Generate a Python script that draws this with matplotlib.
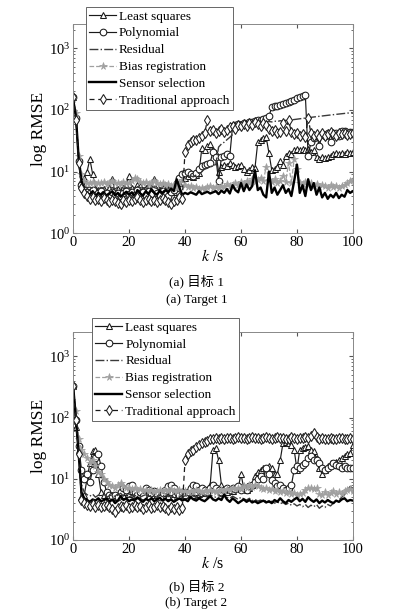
import numpy as np
import matplotlib
matplotlib.use("Agg")
import matplotlib.pyplot as plt
from matplotlib.ticker import LogLocator, LogFormatterSciNotation, NullFormatter

plt.rcParams['font.family'] = ['Liberation Serif', 'Noto Sans CJK SC']
plt.rcParams['mathtext.fontset'] = 'stix'

k = list(range(0, 101))

labels = ["Least squares", "Polynomial", "Residual", "Bias registration",
          "Sensor selection", "Traditional approach"]

# ---------------- Target 1 ----------------
ls1 = [160, 80, 16, 7, 8, 10, 16, 9, 5.5, 5, 4.8, 5.2, 4.6, 5.5, 7.5, 4.5, 5.2, 4.8, 5.5, 6.0,
       8.5, 5.5, 5.2, 6.0, 5.8, 5.0, 5.5, 6.0, 5.2, 7.5, 5.8, 5.0, 5.4, 4.8, 5.2, 5.0, 4.6, 5.5, 6.5, 7.5,
       8.0, 8.5, 9.0, 8.2, 8.8, 9.5, 24, 22, 26, 28, 22, 20, 10, 12, 13, 12.5, 14, 13, 12, 12.5,
       13, 11, 10, 10.5, 12, 11.5, 30, 32, 35, 36, 20, 10.5, 11, 12, 15, 13, 18, 20, 19, 22,
       23, 22, 23, 22, 23, 21, 22, 17, 16, 17, 16.5, 17, 18, 19, 20, 19, 20, 19, 21, 20, 21]
poly1 = [160, 75, 15, 6, 5, 4.6, 4.5, 5, 4.2, 4.4, 4.8, 4.3, 4.5, 4.0, 4.6, 4.2, 4.4, 4.0, 4.5, 4.8,
         4.3, 4.6, 4.2, 5.0, 4.4, 4.6, 4.1, 4.8, 4.3, 5.2, 4.5, 4.2, 4.8, 4.4, 4.0, 4.6, 5.0, 6.5, 8.0, 9.0,
         9.5, 10, 9.2, 8.5, 9.5, 11, 12.5, 13, 13.5, 14, 21, 17, 7, 17, 18, 19, 18, 55, 57, 60,
         58, 62, 60, 65, 63, 67, 70, 68, 72, 75, 80, 110, 115, 118, 122, 125, 130, 135, 140, 148,
         155, 160, 168, 175, 18, 30, 35, 38, 26, 40, 38, 42, 30, 40, 42, 38, 45, 46, 42, 44, 40]
res1 = [150, 85, 17, 7, 5.8, 5.5, 5.6, 5.3, 5.6, 5.2, 5.5, 5.4, 5.7, 5.3, 5.5, 5.2, 5.6, 5.4, 5.8, 5.5,
        5.3, 5.6, 5.4, 5.7, 5.5, 5.3, 5.6, 5.4, 5.8, 5.5, 5.3, 5.6, 5.4, 5.5, 5.2, 5.6, 5.4, 6.0, 6.5, 7.0,
        7.5, 8.0, 8.5, 8.2, 8.8, 9.5, 10, 11, 11.5, 12, 12.5, 13, 25, 28, 30, 33, 36, 40, 45, 50,
        52, 54, 56, 58, 60, 62, 60, 63, 62, 64, 65, 64, 66, 65, 67, 66, 68, 67, 69, 70,
        71, 72, 73, 74, 75, 76, 77, 78, 79, 80, 81, 82, 83, 84, 85, 86, 87, 88, 89, 90, 90]
bias1 = [150, 90, 18, 9, 7, 6.5, 6.5, 6.8, 6.3, 6.6, 6.4, 6.8, 6.2, 6.5, 7.0, 6.4, 6.6, 6.2, 6.8, 6.5,
         6.4, 7.0, 8.0, 7.5, 6.8, 6.5, 6.8, 6.3, 6.6, 7.0, 6.4, 6.2, 6.6, 6.0, 6.3, 5.8, 6.0, 5.5, 6.5, 7.2,
         6.0, 5.6, 5.8, 5.4, 5.6, 5.2, 5.5, 5.3, 5.6, 5.8, 5.5, 5.7, 5.4, 5.9, 5.6, 6.2, 5.8, 6.0, 6.4, 6.0,
         6.8, 6.2, 7.0, 6.5, 7.5, 6.8, 7.2, 8.0, 7.0, 12, 7.2, 6.8, 7.5, 6.5, 7.0, 8.5, 6.8, 14, 6.5, 16,
         11, 6.5, 6.2, 6.8, 6.0, 6.4, 5.8, 6.2, 5.6, 6.0, 5.8, 5.5, 6.0, 5.6, 5.8, 5.5, 5.8, 6.0, 6.5, 7.0, 7.2]
ss1 = [150, 80, 16, 7, 5, 4.5, 4.2, 4.8, 4.0, 4.5, 4.2, 4.6, 4.0, 4.4, 4.8, 4.1, 4.5, 3.9, 4.3, 4.7,
       4.2, 4.6, 4.0, 5.0, 4.4, 4.1, 4.8, 4.3, 5.2, 4.5, 4.2, 4.9, 4.4, 5.0, 4.6, 5.3, 4.8, 7.5, 5.5, 4.2,
       4.5, 4.3, 4.6, 4.4, 4.2, 4.8, 4.3, 4.5, 4.7, 4.4, 4.6, 4.8, 4.3, 4.9, 4.5, 5.2, 4.4, 6.0, 5.0, 4.6,
       6.5, 4.8, 6.2, 5.0, 5.8, 10.5, 5.0, 5.5, 4.2, 3.8, 10.0, 4.5, 5.5, 4.2, 5.0, 6.0, 4.5, 5.2, 4.0, 7.0,
       13.0, 4.5, 6.0, 4.0, 7.5, 5.0, 6.5, 4.2, 5.5, 3.8, 4.5, 3.6, 4.2, 3.8, 4.5, 3.7, 4.2, 3.9, 5.0, 4.5, 4.8]
trad1 = [160, 70, 14, 5.5, 4.5, 4, 3.6, 3.8, 3.4, 3.6, 3.3, 3.7, 3.4, 3.2, 3.5, 3.3, 3.1, 3.0, 3.4, 3.2,
         3.5, 3.3, 3.6, 3.8, 3.5, 3.2, 3.4, 3.6, 3.3, 3.5, 3.2, 3.4, 3.7, 3.4, 3.2, 3.0, 3.3, 3.5, 3.8, 3.6,
         21, 27, 30, 32, 33, 35, 38, 42, 68, 45, 48, 42, 46, 50, 44, 48, 52, 55, 50, 58,
         54, 60, 56, 62, 58, 64, 60, 55, 62, 58, 50, 45, 48, 42, 44, 62, 46, 68, 44, 40,
         42, 38, 40, 36, 74, 42, 38, 40, 36, 42, 38, 40, 44, 41, 38, 42, 40, 43, 39, 41, 42]

# ---------------- Target 2 ----------------
ls2 = [330, 70, 30, 5, 5.5, 10, 18, 28, 30, 12, 6, 5.5, 5.2, 5.0, 5.4, 5.0, 5.2, 5.8, 5.5, 6.0,
       5.6, 6.2, 5.5, 5.8, 5.4, 6.0, 5.5, 5.2, 5.8, 5.4, 5.6, 5.2, 5.5, 5.8, 5.3, 6.0, 5.6, 5.2, 5.5, 5.8,
       5.4, 5.6, 5.8, 5.5, 6.0, 5.6, 5.8, 6.0, 5.8, 8.0, 30, 32, 20, 8, 6.5, 6.0, 6.5, 6.2, 6.8, 7.0,
       12, 7.0, 6.5, 7.0, 8.0, 11, 13, 14, 15, 15, 16, 15, 12, 12, 20, 38, 40, 38, 36, 30,
       14, 30, 32, 33, 35, 30, 28, 22, 15, 12, 14, 16, 18, 17, 19, 20, 22, 24, 25, 26, 36]
poly2 = [330, 90, 35, 14, 10, 12, 9, 14, 22, 25, 16, 9, 6, 5.5, 5.2, 5.5, 5.0, 6.0, 7.0, 6.5,
         7.5, 8.0, 6.0, 5.5, 6.0, 5.2, 7.0, 6.5, 5.8, 6.2, 5.5, 5.0, 5.8, 6.5, 7.5, 8.0, 7.0, 6.0, 5.5, 6.0,
         5.5, 6.0, 7.0, 8.0, 7.5, 6.5, 7.0, 6.5, 6.0, 7.0, 8.0, 7.0, 6.5, 6.0, 6.5, 7.0, 6.5, 7.0, 6.8, 7.5,
         6.5, 7.0, 6.5, 7.5, 8.0, 9.0, 10, 11, 10, 15, 12, 9.5, 8.5, 7.5, 8.0, 7.0, 6.5, 7.0, 7.8, 14,
         16, 15, 17, 18, 22, 24, 20, 20, 18, 15, 14, 15, 16, 18, 17, 16, 15, 16, 15, 15, 15]
res2 = [330, 110, 35, 8, 6, 5.5, 5.2, 5.6, 5.0, 5.4, 5.2, 5.6, 5.0, 5.3, 5.5, 5.1, 5.4, 5.8, 5.2, 5.5,
        5.0, 5.4, 5.2, 5.6, 5.0, 5.3, 5.5, 5.1, 5.4, 5.2, 5.0, 5.4, 5.2, 5.6, 5.1, 5.3, 5.0, 5.4, 5.2, 5.0,
        5.3, 5.1, 5.5, 5.2, 5.0, 5.4, 5.1, 5.3, 5.0, 5.4, 5.2, 5.0, 5.3, 5.1, 5.5, 5.0, 4.8, 5.2, 4.9, 4.6,
        5.0, 4.7, 4.5, 4.8, 4.4, 4.6, 4.3, 4.5, 4.2, 4.4, 4.1, 4.3, 4.0, 4.2, 3.9, 4.1, 3.8, 4.0, 3.7, 3.9,
        3.6, 3.8, 3.5, 3.8, 3.4, 3.7, 3.5, 3.8, 3.3, 3.6, 3.4, 3.8, 3.6, 4.0, 4.2, 4.5, 5.0, 5.5, 6.5, 7.5, 7.0]
bias2 = [330, 130, 45, 30, 25, 22, 18, 20, 16, 13, 12, 10, 9, 8, 7.5, 7.2, 7.8, 8.5, 7.5, 7.0,
         7.2, 6.8, 7.0, 6.5, 6.8, 6.4, 6.6, 6.2, 6.5, 6.0, 6.3, 6.5, 6.2, 6.6, 6.3, 6.8, 6.4, 6.2, 6.5, 6.0,
         6.3, 6.0, 6.4, 6.1, 6.5, 6.2, 6.0, 6.4, 6.1, 6.5, 6.2, 6.0, 6.3, 6.6, 6.2, 6.8, 6.5, 7.0, 6.8, 7.2,
         6.9, 7.5, 7.2, 7.8, 7.4, 8.0, 7.6, 7.2, 6.8, 7.0, 6.5, 6.8, 6.2, 6.5, 6.0, 6.3, 5.8, 6.0, 5.6, 5.8,
         5.4, 5.6, 5.8, 6.5, 7.0, 7.2, 6.8, 7.0, 5.6, 5.4, 6.0, 5.5, 5.8, 6.2, 5.6, 6.0, 5.7, 6.2, 6.5, 6.8, 6.3]
ss2 = [330, 100, 25, 6, 4.8, 4.5, 4.2, 4.6, 4.4, 4.8, 4.3, 4.5, 4.7, 4.2, 4.6, 4.0, 4.4, 5.2, 4.5, 4.8,
       4.3, 4.6, 4.4, 5.0, 4.5, 4.2, 4.7, 4.4, 4.8, 4.3, 4.6, 4.9, 4.4, 4.7, 4.3, 4.6, 4.2, 4.5, 4.8, 4.4,
       4.6, 4.3, 5.0, 4.6, 4.4, 4.8, 4.5, 4.3, 4.7, 5.2, 4.6, 4.4, 4.8, 4.5, 5.5, 4.6, 4.2, 4.8, 4.4, 4.0,
       4.3, 4.6, 4.2, 4.5, 4.1, 4.3, 4.0, 4.2, 4.4, 4.1, 4.3, 4.0, 4.5, 4.2, 4.8, 4.3, 4.0, 4.5, 4.2, 4.6,
       4.9, 4.3, 4.7, 4.2, 5.0, 4.5, 4.2, 4.6, 4.0, 4.4, 4.1, 4.5, 4.2, 4.0, 4.4, 4.2, 4.6, 4.8, 4.3, 4.5, 4.4]
trad2 = [330, 90, 25, 4.5, 4.0, 3.8, 3.6, 3.9, 3.5, 3.7, 3.4, 3.6, 3.8, 3.5, 3.2, 2.9, 3.3, 3.6, 3.4, 3.7,
         3.3, 3.5, 3.8, 3.4, 3.6, 3.2, 3.5, 3.7, 3.3, 3.5, 3.8, 3.4, 3.6, 3.3, 3.1, 3.4, 3.2, 3.5, 3.1, 3.3,
         20, 25, 28, 30, 33, 36, 38, 40, 42, 44, 45, 46, 44, 47, 45, 46, 47, 45, 46, 48,
         46, 47, 45, 47, 48, 46, 47, 45, 46, 48, 47, 45, 46, 48, 46, 47, 45, 44, 48, 46,
         45, 47, 46, 48, 47, 50, 57, 48, 45, 46, 44, 45, 46, 44, 45, 47, 46, 45, 44, 46, 45]

x_ticks = [0, 20, 40, 60, 80, 100]
captions = [("(a) 目标 1", "(a) Target 1"), ("(b) 目标 2", "(b) Target 2")]

fig = plt.figure(figsize=(3.93, 6.15), dpi=100)

axes_pos = [[0.186, 0.621, 0.712, 0.340], [0.186, 0.122, 0.712, 0.338]]
legend_anchor = [(0.046, 1.081), (0.068, 1.067)]
cap_y = [(0.542, 0.512), (0.047, 0.019)]

styles = [
    dict(color='#1a1a1a', lw=0.85, ls='-', marker='^', ms=4.8, mfc='white', mec='#1a1a1a', mew=0.75),
    dict(color='#1a1a1a', lw=0.85, ls='-', marker='o', ms=4.8, mfc='white', mec='#1a1a1a', mew=0.75),
    dict(color='#3a3a3a', lw=1.0, ls='-.', marker=None),
    dict(color='#a0a0a0', lw=0.9, ls='--', marker='*', ms=5.5, mfc='#a0a0a0', mec='#a0a0a0', mew=0.5),
    dict(color='black', lw=1.7, ls='-', marker=None),
    dict(color='#1a1a1a', lw=0.9, ls=(0, (4, 3)), marker='d', ms=4.8, mfc='white', mec='#1a1a1a', mew=0.75),
]

datasets = [[ls1, poly1, res1, bias1, ss1, trad1], [ls2, poly2, res2, bias2, ss2, trad2]]

for i in range(2):
    ax = fig.add_axes(axes_pos[i])
    for series, lab, st in zip(datasets[i], labels, styles):
        ax.plot(k, series, label=lab, **st)
    ax.set_yscale('log')
    ax.set_xlim(0, 100)
    ax.set_ylim(1, 2500)
    ax.set_xticks(x_ticks)
    ax.yaxis.set_major_locator(LogLocator(base=10, numticks=10))
    ax.yaxis.set_major_formatter(LogFormatterSciNotation())
    ax.yaxis.set_minor_locator(LogLocator(base=10, subs=np.arange(2, 10), numticks=10))
    ax.yaxis.set_minor_formatter(NullFormatter())
    ax.tick_params(which='both', direction='in', top=True, right=True, colors='#555555',
                   labelcolor='black', labelsize=10.5)
    ax.tick_params(which='major', length=3, pad=2)
    ax.tick_params(which='minor', length=1.5)
    for sp in ax.spines.values():
        sp.set_color('#888888')
        sp.set_linewidth(0.7)
    ax.set_ylabel('log RMSE', fontsize=12.5, labelpad=1)
    ax.set_xlabel('$k$ /s', fontsize=11.5, labelpad=0)
    leg = ax.legend(loc='upper left', bbox_to_anchor=legend_anchor[i], borderaxespad=0,
                    fontsize=9.5, frameon=True, fancybox=False, edgecolor='#666666',
                    framealpha=1, labelspacing=0.35, handlelength=2.05, handletextpad=0.2,
                    borderpad=0.25)
    leg.get_frame().set_linewidth(0.7)
    leg.set_zorder(10)
    fig.text(0.5, cap_y[i][0], captions[i][0], ha='center', va='center', fontsize=9.5)
    fig.text(0.5, cap_y[i][1], captions[i][1], ha='center', va='center', fontsize=9.5)

fig.savefig('out.png', dpi=100)
